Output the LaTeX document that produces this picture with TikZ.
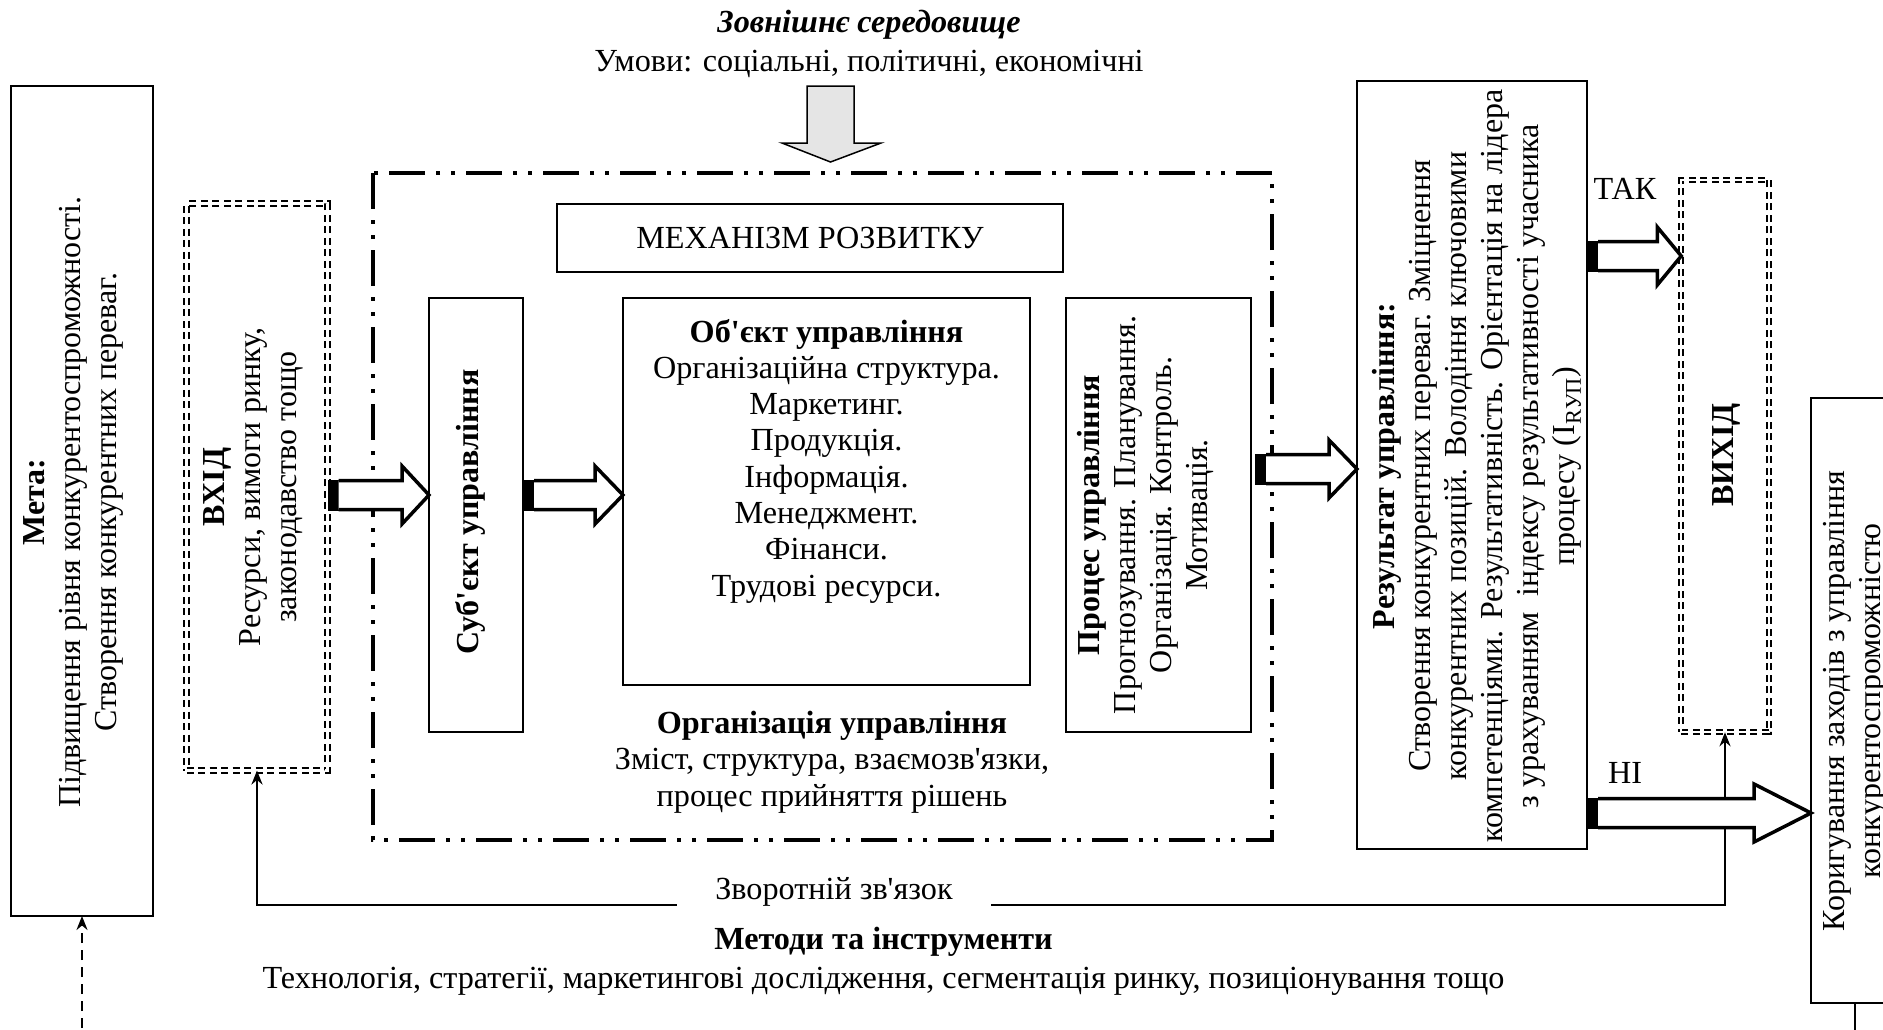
\documentclass[tikz,border=0pt]{standalone}
\usepackage{fontspec}
\setmainfont{Liberation Serif}[Ligatures=TeXOff]
\usepackage{graphicx}
\usetikzlibrary{arrows.meta,calc}

% hollow block arrow with a black bar at its tail
% #1 tail point, #2 tip point (same height), #3 head length
\newcommand\blockarrow[3]{%
  \fill let \p1=(#1) in (\x1,\y1-15.5pt) rectangle (\x1+11pt,\y1+15.5pt);
  \draw[line width=3.5pt, fill=white, line join=miter, miter limit=10]
    let \p1=(#1), \p2=(#2) in
    (\x1+11pt,\y1+14.5pt) -- (\x2-#3,\y1+14.5pt) -- (\x2-#3,\y1+29pt) -- (\x2,\y1)
    -- (\x2-#3,\y1-29pt) -- (\x2-#3,\y1-14.5pt) -- (\x1+11pt,\y1-14.5pt);
}

\begin{document}
\begin{tikzpicture}[x=1pt,y=-1pt,
  every node/.style={font=\fontsize{32.2}{36.3}\selectfont, inner sep=0pt, outer sep=0pt},
  box/.style={draw, line width=2pt},
  dbldash/.style={draw, line width=1.9pt, double, double distance=2.4pt, dash pattern=on 7pt off 4.5pt},
  ddot/.style={line width=4pt, dash pattern=on 36pt off 11pt on 4pt off 11pt on 4pt off 11pt},
  rt/.style={rotate=90, align=center, font=\fontsize{32}{36}\selectfont},
  tip/.style={-{Stealth[length=14pt,width=11pt]}},
  fbline/.style={line width=2.5pt, {Stealth[length=14pt,width=11pt]}-{Stealth[length=14pt,width=11pt]}}
]
\useasboundingbox (0,0) rectangle (1883,1029);
\fill[white] (0,0) rectangle (1883,1029);
\clip (0,0) rectangle (1883,1029);

% environment
\node (env) at (869,25) {\textbf{\textit{Зовнішнє середовище}}};
\node (cond) at (869,64) {Умови: соціальні, політичні, економічні};
\draw[line width=1.5pt, fill=gray!20, line join=miter]
  (807,86) -- (854,86) -- (854,143) -- (881,143) -- (830.5,162) -- (782,143) -- (807,143) -- cycle;

% goal
\node[box, minimum width=142pt, minimum height=830pt] (meta) at (82,501) {};
\node[rt] (metat) at (73,502) {\textbf{Мета:}\\Підвищення рівня конкурентоспроможності.\\Створення конкурентних переваг.};

% input
\node[dbldash, minimum width=141pt, minimum height=567pt] (vhid) at (257,487) {};
\node[rt] (vhidt) at (253,487) {\textbf{ВХІД}\\Ресурси, вимоги ринку,\\законодавство тощо};

% development mechanism frame
\node[minimum width=899pt, minimum height=667pt] (mech) at (822.5,506.5) {};
\draw[ddot] (mech.north west) rectangle (mech.south east);

\node[box, minimum width=506pt, minimum height=68pt] (mr) at (810,238) {МЕХАНІЗМ РОЗВИТКУ};

\node[box, minimum width=94pt, minimum height=434pt] (subj) at (476,515) {};
\node[rt] (subjt) at (470,512) {\textbf{Суб'єкт управління}};

\node[box, minimum width=407pt, minimum height=387pt] (obj) at (826.5,491.5) {};
\node[align=center, anchor=north] (objt) at (826.5,319) {\textbf{Об'єкт управління}\\Організаційна структура.\\Маркетинг.\\Продукція.\\Інформація.\\Менеджмент.\\Фінанси.\\Трудові ресурси.};

\node[box, minimum width=185pt, minimum height=434pt] (proc) at (1158.5,515) {};
\node[rt] (proct) at (1145,515) {\textbf{Процес управління}\\Прогнозування. Планування.\\Організація. Контроль.\\Мотивація.};

\node[align=center] (org) at (832,762) {\textbf{Організація управління}\\Зміст, структура, взаємозв'язки,\\процес прийняття рішень};

% result
\node[box, minimum width=230pt, minimum height=768pt] (res) at (1472,465) {};
\node[rt] (rest) at (1477,466) {\textbf{Результат управління:}\\Створення конкурентних переваг. Зміцнення\\конкурентних позицій. Володіння ключовими\\компетенціями. Результативність. Орієнтація на лідера\\з урахуванням\ \ індексу результативності учасника\\процесу (I\textsubscript{RУП})};

% output
\node[dbldash, minimum width=87.5pt, minimum height=552.5pt] (vyh) at (1725,456) {};
\node[rt] (vyht) at (1726,455) {\textbf{ВИХІД}};

% correction
\node[box, minimum width=88pt, minimum height=605pt] (kor) at (1855,700.5) {};
\node[rt] (kort) at (1855.5,701) {Коригування заходів з управління\\конкурентоспроможністю};

\node (tak) at (1625,189) {ТАК};
\node (ni) at (1625,773) {НІ};

% methods
\node (mt) at (883.5,942) {\textbf{Методи та інструменти}};
\node (tools) at (883.5,981) {Технологія, стратегії, маркетингові дослідження, сегментація ринку, позиціонування тощо};

% feedback loop
\coordinate (fbrow) at (0,905);
\coordinate (below) at (0,1045);
\draw[fbline] (vhid.south) -- (vhid.south |- fbrow) -- (vyh.south |- fbrow) -- (vyh.south);
\node[fill=white, inner xsep=38pt, inner ysep=4pt] (fbt) at (834,892) {Зворотній зв'язок};

\draw[line width=2pt, dash pattern=on 10pt off 7pt, tip] (meta.south |- below) -- (meta.south);
\draw[line width=2pt] (kor.south) -- (kor.south |- below);

% block arrows
\coordinate (rA) at (0,495);
\coordinate (rC) at (0,469);
\coordinate (rD) at (0,256);
\coordinate (rE) at (0,813);
\blockarrow{vhid.east |- rA}{subj.west |- rA}{27pt}
\blockarrow{subj.east |- rA}{obj.west |- rA}{28pt}
\blockarrow{$(proc.east |- rC)+(4,0)$}{res.west |- rC}{28pt}
\blockarrow{res.east |- rD}{vyh.west |- rD}{24pt}
\blockarrow{res.east |- rE}{kor.west |- rE}{57pt}
\end{tikzpicture}
\end{document}
